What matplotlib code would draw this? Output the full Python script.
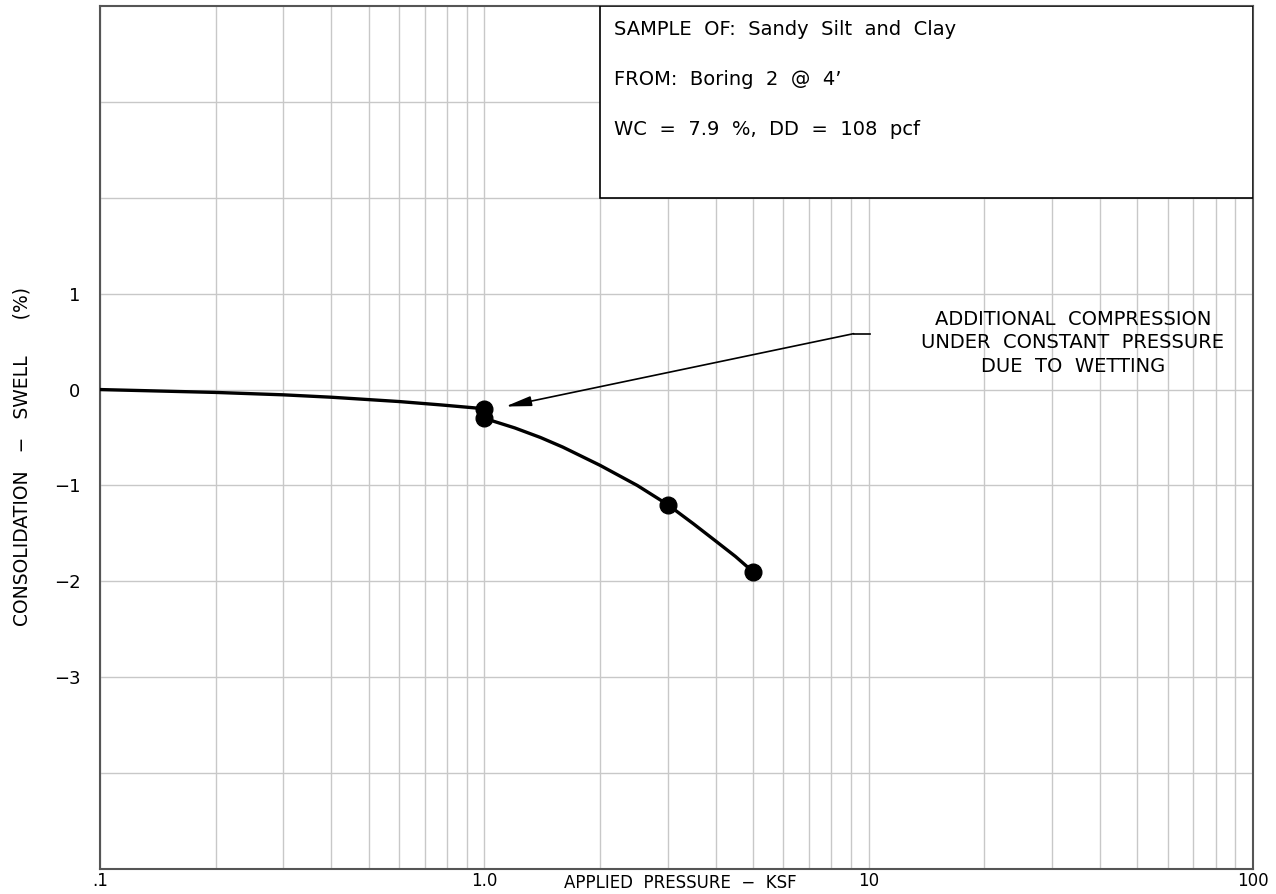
import numpy as np
import matplotlib.pyplot as plt
from matplotlib.patches import Rectangle

# tested points (pressure ksf, consolidation/swell %)
pts_x = [1.0, 1.0, 3.0, 5.0]
pts_y = [-0.2, -0.3, -1.2, -1.9]

# curve: before wetting, after wetting
dry_x = [0.1, 0.2, 0.3, 0.4, 0.6, 0.77, 1.0]
dry_y = [0.0, -0.03, -0.055, -0.08, -0.125, -0.16, -0.2]
wet_x = [1.0, 1.2, 1.4, 1.6, 2.0, 2.5, 3.0, 3.5, 4.0, 4.5, 5.0]
wet_y = [-0.3, -0.4, -0.5, -0.6, -0.79, -1.0, -1.2, -1.4, -1.58, -1.74, -1.9]

xticks = [0.1, 1.0, 10, 100]
xtick_labels = ['.1', '1.0', '10', '100']
yticks = [1, 0, -1, -2, -3]

info_lines = ["SAMPLE  OF:  Sandy  Silt  and  Clay",
              "FROM:  Boring  2  @  4\u2019",
              "WC  =  7.9  %,  DD  =  108  pcf"]
note = "ADDITIONAL  COMPRESSION\nUNDER  CONSTANT  PRESSURE\nDUE  TO  WETTING"

fig = plt.figure(figsize=(12.76, 8.94), dpi=100)
ax = fig.add_axes([100 / 1276, 25 / 894, 1153 / 1276, 863 / 894])
ax.set_xscale('log')
ax.set_xlim(0.1, 100)
ax.set_ylim(-5, 4)

# grid
for d in [0.1, 1, 10]:
    for m in range(1, 10):
        ax.axvline(d * m, color='#c8c8c8', lw=1, zorder=0)
for yy in range(-4, 4):
    ax.axhline(yy, color='#c8c8c8', lw=1, zorder=0)

ax.plot(dry_x, dry_y, color='black', lw=2.4, zorder=3, solid_joinstyle='round')
ax.plot(wet_x, wet_y, color='black', lw=2.4, zorder=3, solid_joinstyle='round')
ax.plot(pts_x, pts_y, 'o', color='black', ms=12, zorder=4)

# info box
ax.add_patch(Rectangle((2, 2), 98, 2, fill=True, facecolor='white',
                       edgecolor='black', lw=1.2, zorder=5))
for i, s in enumerate(info_lines):
    ax.text(2.17, 3.75 - i * 0.52, s, fontsize=14, va='center', ha='left',
            zorder=6)

# note with leader
ax.text(34, 0.49, note, fontsize=14, ha='center', va='center',
        linespacing=1.3, zorder=6)
ax.plot([9.14, 10.1], [0.583, 0.583], color='black', lw=1.2)
ax.annotate('', xy=(1.134, -0.177), xytext=(9.14, 0.583),
            arrowprops=dict(arrowstyle='-|>,head_length=1.3,head_width=0.25',
                            color='black', lw=1.2,
                            mutation_scale=12, shrinkA=0, shrinkB=0))

ax.set_xticks(xticks)
ax.set_xticklabels(xtick_labels)
ax.xaxis.set_minor_locator(plt.NullLocator())
ax.set_yticks(yticks)
ax.tick_params(length=0, labelsize=13)
ax.tick_params(axis='x', pad=2, labelsize=12)
ax.tick_params(axis='y', pad=14)

for s in ax.spines.values():
    s.set_color('#555555')
    s.set_linewidth(1.5)

fig.text(680 / 1276, 1 - 883 / 894, "APPLIED  PRESSURE  \u2212  KSF",
         fontsize=12, ha='center', va='center')
fig.text(22 / 1276, 1 - 456 / 894,
         "CONSOLIDATION   \u2212   SWELL      (%)", fontsize=13.5,
         rotation=90, ha='center', va='center')

fig.savefig('out.png', dpi=100)
